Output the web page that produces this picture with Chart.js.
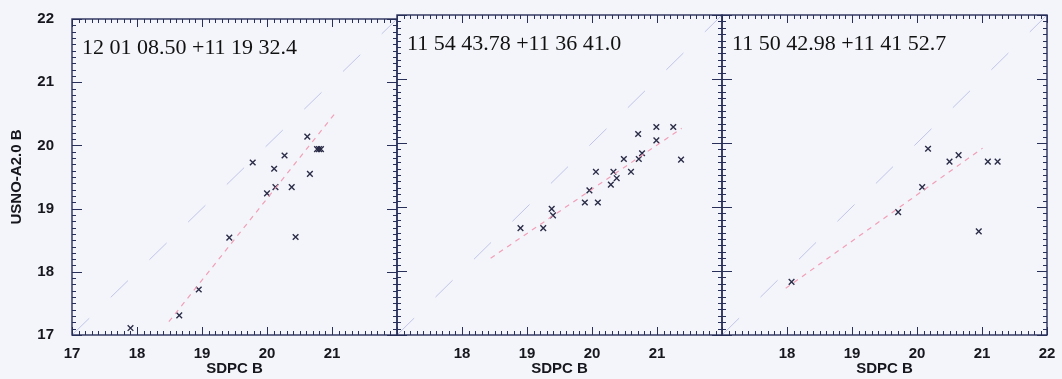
<!DOCTYPE html>
<html><head><meta charset="utf-8">
<script src="https://cdn.jsdelivr.net/npm/chart.js@4/dist/chart.umd.min.js"></script>
<style>
html,body{margin:0;padding:0;background:#f4f5fa;}
#wrap{position:relative;width:1062px;height:379px;overflow:hidden;}
canvas{position:absolute;left:0;top:0;width:1062px;height:379px;}
</style></head><body>
<div id="wrap">
<canvas id="c1" width="1062" height="379"></canvas>
<canvas id="c2" width="1062" height="379"></canvas>
<canvas id="c3" width="1062" height="379"></canvas>
</div>
<script>
// ---- data ----
const panelTitles = ['12 01 08.50 +11 19 32.4', '11 54 43.78 +11 36 41.0', '11 50 42.98 +11 41 52.7'];

const p1X = [19.78, 20.11, 20.27, 20.62, 20.77, 20.80, 20.83, 20.66, 20.00, 20.13, 20.38, 19.42, 20.44, 18.95, 18.65, 17.90];
const p1Y = [19.73, 19.63, 19.84, 20.14, 19.94, 19.94, 19.94, 19.55, 19.24, 19.34, 19.34, 18.54, 18.55, 17.72, 17.31, 17.11];

const p2X = [20.99, 21.25, 20.71, 20.99, 20.77, 20.49, 20.72, 21.37, 20.06, 20.33, 20.60, 20.38, 20.29, 19.96, 19.89, 20.09, 19.38, 19.40, 18.90, 19.25];
const p2Y = [20.25, 20.25, 20.14, 20.04, 19.84, 19.75, 19.75, 19.74, 19.55, 19.55, 19.55, 19.45, 19.35, 19.26, 19.07, 19.07, 18.97, 18.87, 18.67, 18.67];

const p3X = [20.17, 20.50, 20.64, 21.09, 21.24, 20.08, 19.71, 20.95, 18.07];
const p3Y = [19.91, 19.71, 19.81, 19.71, 19.71, 19.31, 18.92, 18.62, 17.83];

// fitted relation endpoints (x1, y1, x2, y2) per panel
const fit1 = [18.49, 17.21, 21.08, 20.55];
const fit2 = [18.44, 18.20, 21.38, 20.23];
const fit3 = [17.98, 17.73, 21.01, 19.92];

// one-to-one reference line
const identityLine = [17, 22];

const axisMin = 17, axisMax = 22;
const xTickLabels1 = [17, 18, 19, 20, 21];
const xTickLabels2 = [18, 19, 20, 21];
const xTickLabels3 = [18, 19, 20, 21, 22];
const yTickLabels = [17, 18, 19, 20, 21, 22];
const minorStep = 0.1;

// ---- drawing ----
const panels = [
  {id:'c1', xs:p1X, ys:p1Y, fit:fit1, xt:xTickLabels1, title:panelTitles[0], left:0,   right:1062-397, showY:true},
  {id:'c2', xs:p2X, ys:p2Y, fit:fit2, xt:xTickLabels2, title:panelTitles[1], left:397, right:1062-722, showY:false},
  {id:'c3', xs:p3X, ys:p3Y, fit:fit3, xt:xTickLabels3, title:panelTitles[2], left:722, right:1062-1047, showY:false}
];

const frameColor = '#28305a';
const labelFont = {family:'"Liberation Sans", Arial, Helvetica, sans-serif', size:15, weight:'bold'};

const framePlugin = {
  id:'frame',
  afterDraw(chart, args, opts){
    const {ctx, chartArea:a, scales:{x, y}} = chart;
    ctx.save();
    ctx.strokeStyle = frameColor;
    ctx.lineWidth = 1.4;
    ctx.strokeRect(a.left, a.top, a.right - a.left, a.bottom - a.top);
    ctx.lineWidth = 1;
    ctx.beginPath();
    const n = Math.round((axisMax - axisMin) / minorStep);
    for (let i = 0; i <= n; i++) {
      const v = axisMin + i * minorStep;
      const major = i % 10 === 0;
      const px = Math.round(x.getPixelForValue(v)) + 0.5;
      const L = major ? 8 : 4;
      ctx.moveTo(px, a.bottom); ctx.lineTo(px, a.bottom - L);
      ctx.moveTo(px, a.top); ctx.lineTo(px, a.top + L);
      const py = Math.round(y.getPixelForValue(v)) + 0.5;
      const Ly = major ? 10 : 4;
      ctx.moveTo(a.left, py); ctx.lineTo(a.left + Ly, py);
      ctx.moveTo(a.right, py); ctx.lineTo(a.right - Ly, py);
    }
    ctx.stroke();
    ctx.fillStyle = '#111';
    ctx.font = '22px "Liberation Serif", "Times New Roman", serif';
    ctx.textBaseline = 'alphabetic';
    ctx.textAlign = 'left';
    ctx.fillText(opts.title, a.left + 10, a.top + 35);
    ctx.restore();
  }
};

panels.forEach(p => {
  const pts = p.xs.map((v, i) => ({x:v, y:p.ys[i]}));
  new Chart(document.getElementById(p.id), {
    type:'scatter',
    data:{datasets:[
      {type:'line', data:[{x:identityLine[0], y:identityLine[0]}, {x:identityLine[1], y:identityLine[1]}],
       borderColor:'rgba(175,180,225,0.75)', borderWidth:1, borderDash:[24,30], pointRadius:0, fill:false},
      {type:'line', data:[{x:p.fit[0], y:p.fit[1]}, {x:p.fit[2], y:p.fit[3]}],
       borderColor:'rgba(240,150,175,0.9)', borderWidth:1.2, borderDash:[5,5], pointRadius:0, fill:false},
      {data:pts, pointStyle:'crossRot', pointRadius:4, borderColor:'#2b2d48', borderWidth:1.4, backgroundColor:'rgba(0,0,0,0)'}
    ]},
    options:{
      responsive:false, animation:false, events:[],
      layout:{padding:{left:p.left, right:p.right, top:15, bottom:0}},
      plugins:{legend:{display:false}, tooltip:{enabled:false}, frame:{title:p.title}},
      scales:{
        x:{type:'linear', min:axisMin, max:axisMax,
           grid:{display:false}, border:{display:false},
           afterFit(s){ s.height = 44; },
           ticks:{stepSize:1, autoSkip:false, maxRotation:0, padding:2, color:'#16161e', font:labelFont,
                  callback(v){ return p.xt.includes(v) ? String(v) : ''; }},
           title:{display:true, text:'SDPC B', color:'#16161e', font:labelFont, padding:{top:0, bottom:1}}},
        y:{type:'linear', min:axisMin, max:axisMax, display:p.showY,
           grid:{display:false}, border:{display:false},
           afterFit(s){ s.width = p.showY ? 72 : 0; },
           ticks:{stepSize:1, padding:10, color:'#16161e', font:labelFont,
                  callback(v){ return yTickLabels.includes(v) ? String(v) : ''; }},
           title:{display:true, text:'USNO-A2.0 B', color:'#16161e', font:labelFont, padding:{top:8, bottom:0}}}
      }
    },
    plugins:[framePlugin]
  });
});
</script>
</body></html>
